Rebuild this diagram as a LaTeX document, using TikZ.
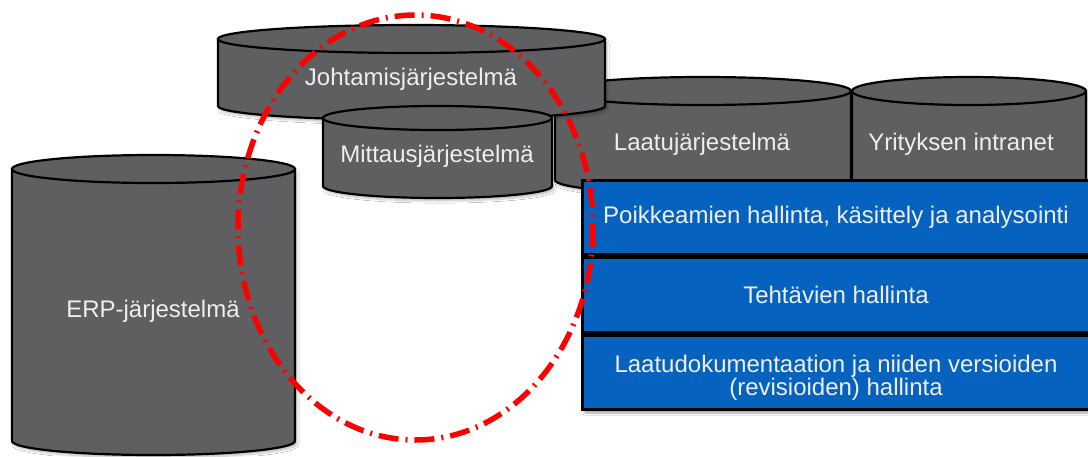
\documentclass[tikz,border=0pt]{standalone}
\usepackage{fontspec}
\setmainfont{Liberation Sans}
\usetikzlibrary{shadows.blur}

\definecolor{drumgray}{HTML}{5F5F61}
\definecolor{panelblue}{HTML}{0562BE}
\definecolor{labelwhite}{HTML}{EEEEEE}
\definecolor{ringred}{HTML}{FF0000}

% A database drum: centre x, top rim y, bottom rim y, x radius, y radius
\newcommand\drum[5]{%
  \path[drumbody,blur shadow={shadow xshift=2pt,shadow yshift=-3pt,shadow opacity=25,shadow blur steps=6}]
    ({#1-#4},#2) -- ({#1-#4},#3)
    arc[start angle=180,end angle=0,x radius=#4,y radius=#5]
    -- ({#1+#4},#2) -- cycle;
  \path[drumbody] (#1,#2) ellipse[x radius=#4,y radius=#5];%
}

\begin{document}
\begin{tikzpicture}[x=1pt,y=-1pt,
  drumbody/.style={fill=drumgray,draw=black,line width=2.2pt},
  drumlabel/.style={text=labelwhite,font=\fontsize{24}{24}\selectfont,anchor=base,inner sep=0pt},
  panel/.style={fill=panelblue,draw=black,line width=3pt},
  panellabel/.style={text=labelwhite,font=\fontsize{24}{23}\selectfont,align=center,inner sep=0pt},
  ringstyle/.style={draw=ringred,line width=5.5pt,dash pattern=on 20pt off 7pt on 2pt off 7pt}]

\useasboundingbox[fill=white] (0,0) rectangle (1088,456);

% drums, back to front
\drum{703}{91}{180}{148}{14}
\drum{969}{91}{180}{117}{14}
\drum{411.5}{39}{106}{193.5}{14}
\drum{437.5}{118}{186}{114.5}{12}
\drum{153.5}{169}{441}{141.5}{14}

\node[drumlabel] (johtamis) at (411,85) {Johtamisjärjestelmä};
\node[drumlabel] (mittaus) at (437,162) {Mittausjärjestelmä};
\node[drumlabel] (laatu) at (702,150) {Laatujärjestelmä};
\node[drumlabel] (intranet) at (961,150) {Yrityksen intranet};
\node[drumlabel] (erp) at (153,317) {ERP-järjestelmä};

% stacked function panels
\begin{scope}
\clip (0,0) rectangle (1088,456);
\path[panel,blur shadow={shadow xshift=3pt,shadow yshift=-4pt,shadow opacity=35,shadow blur steps=6}]
  (582,335) rectangle (1094,409);
\path[panel] (582,180) rectangle (1094,254);
\path[panel] (582,257) rectangle (1094,332);
\path[panel] (582,335) rectangle (1094,409);
\end{scope}

\node[panellabel] (poikkeamat) at (836,217) {Poikkeamien hallinta, käsittely ja analysointi};
\node[panellabel] (tehtavat) at (836,295) {Tehtävien hallinta};
\node[panellabel] (dokumentit) at (836,378) {Laatudokumentaation ja niiden versioiden\\(revisioiden) hallinta};

% dash-dotted ring
\path[ringstyle] (415.5,227.5) ellipse[x radius=177.5,y radius=212.5];

\end{tikzpicture}
\end{document}
